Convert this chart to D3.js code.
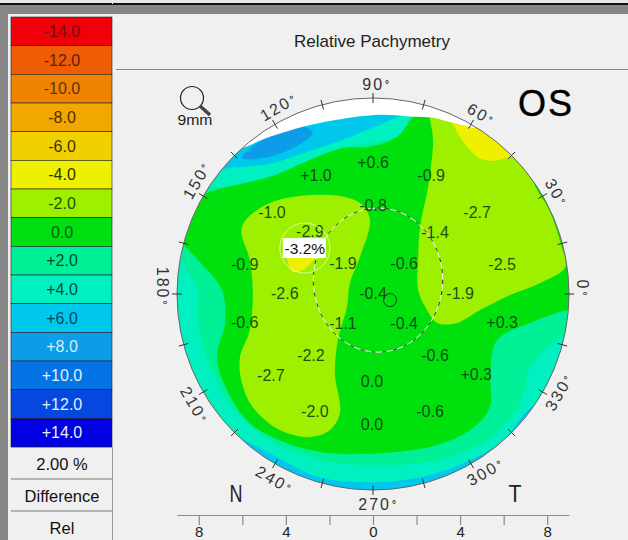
<!DOCTYPE html>
<html>
<head>
<meta charset="utf-8">
<script src="https://cdn.jsdelivr.net/npm/d3@7"></script>
<style>
  html, body { margin: 0; padding: 0; background: #f0f0f0; overflow: hidden; }
  svg { display: block; font-family: "Liberation Sans", Arial, sans-serif; }
</style>
</head>
<body>
<svg id="chart" width="628" height="540"></svg>
<script>
// Colour scale
const legendLabels = ["-14.0", "-12.0", "-10.0", "-8.0", "-6.0", "-4.0", "-2.0", "0.0", "+2.0", "+4.0", "+6.0", "+8.0", "+10.0", "+12.0", "+14.0"];
const legendColors = ["#f00008", "#f05c04", "#f08400", "#f0a800", "#f0d000", "#eef000", "#9cf000", "#00e010", "#00f098", "#00f0c0", "#00c8ec", "#0c9ce8", "#0474e4", "#0448e0", "#0000e0"];
const legendText = ["#701010", "#602010", "#603010", "#503000", "#403000", "#303000", "#205000", "#006010", "#004a30", "#004a40", "#004a60", "#d0f0ff", "#e0f0ff", "#e0f0ff", "#e8f0ff"];
const footerLabels = ["2.00 %", "Difference", "Rel"];

// Map regions, outlines in mm
const regionPlus8 = [[-6.02, 6.25], [-5.06, 7.08], [-3.22, 7.68], [-2.76, 7.40], [-3.40, 6.85], [-4.74, 6.30]];
const regionPlus4 = [[-7.95, 5.50], [-6.80, 5.75], [-4.74, 5.98], [-2.90, 6.57], [-1.38, 7.08], [0.32, 7.77], [1.93, 8.37], [10.44, 8.69], [10.44, -4.87], [7.45, -5.10], [5.98, -6.71], [4.46, -7.63], [2.16, -8.41], [-0.14, -8.64], [-2.44, -8.41], [-4.74, -7.31], [-6.57, -6.25], [-7.95, -4.41], [-8.87, -2.11], [-9.33, 0.18], [-9.33, 4.32]];
const regionPlus2 = [[-9.10, 2.71], [-8.55, 1.10], [-8.05, 0.18], [-8.05, -1.33], [-7.36, -3.63], [-6.25, -5.47], [-4.74, -6.71], [-2.44, -7.63], [0.32, -7.86], [2.94, -7.63], [5.24, -6.71], [6.76, -5.01], [7.22, -3.36], [8.46, -2.11], [9.98, -1.66], [10.90, -0.28], [10.90, 8.92], [2.62, 8.92], [1.84, 8.37], [1.24, 7.31], [-0.14, 6.94], [-1.66, 6.62], [-3.22, 5.84], [-4.74, 5.24], [-6.25, 4.92], [-7.63, 4.87], [-9.33, 4.32]];
const regionZero = [[-9.10, 3.17], [-8.74, 2.34], [-7.95, 1.47], [-6.94, 0.18], [-6.80, -1.33], [-7.17, -2.90], [-6.71, -4.41], [-5.66, -5.93], [-3.95, -6.85], [-1.98, -7.31], [0.32, -7.31], [2.94, -6.94], [4.46, -6.25], [5.24, -5.47], [5.43, -4.87], [5.38, -3.72], [5.70, -2.11], [7.22, -1.33], [8.92, -0.74], [10.44, -0.51], [10.90, 8.92], [2.62, 8.92], [1.84, 8.14], [1.10, 7.22], [-0.14, 6.76], [-1.38, 6.71], [-3.22, 6.02], [-4.74, 5.38], [-6.90, 4.87], [-7.63, 4.64], [-9.33, 3.86]];
const regionMinus2Right = [[2.71, 8.92], [2.76, 6.94], [2.53, 4.92], [2.16, 3.08], [2.07, 1.56], [2.07, 0.18], [2.48, -0.74], [2.94, -1.33], [3.86, -1.33], [4.92, -0.74], [6.30, -0.05], [7.68, 0.51], [8.83, 1.24], [8.64, 2.25], [8.14, 3.77], [7.36, 5.33], [8.05, 6.25], [5.84, 8.92]];
const regionMinus2Left = [[-6.02, 3.08], [-4.74, 4.18], [-1.98, 4.55], [-0.60, 4.18], [-0.14, 3.40], [-0.60, 1.70], [-1.06, 0.51], [-1.20, -0.60], [-1.61, -2.11], [-1.75, -3.63], [-1.52, -5.47], [-1.98, -6.25], [-2.90, -6.57], [-4.28, -6.25], [-5.52, -5.20], [-6.02, -4.09], [-6.11, -2.90], [-5.66, -1.66], [-5.52, 0.18], [-5.66, 1.56]];
const regionMinus4Top = [[3.40, 8.37], [3.68, 7.77], [4.32, 6.76], [5.06, 6.16], [6.16, 6.25], [6.76, 6.62], [7.22, 8.00], [4.46, 8.92]];
const regionMinus4Left = [[-3.91, 2.02], [-2.44, 2.02], [-2.80, 1.47], [-3.22, 1.10], [-3.68, 1.01]];
const lidEdge = [[-6.80, 6.62], [-4.74, 7.22], [-3.22, 7.68], [-1.66, 8.00], [0.32, 8.23], [1.84, 8.14], [2.76, 8.09], [3.68, 7.86], [5.01, 7.72], [5.38, 9.84], [-6.80, 9.84]];

// Readings on the map
const readingText = ["+0.6", "+1.0", "-0.9", "-0.8", "-1.0", "-2.9", "-2.7", "-1.4", "-0.9", "-1.9", "-0.6", "-2.5", "-2.6", "-0.4", "-1.9", "-0.6", "-1.1", "-0.4", "+0.3", "-2.2", "-0.6", "-2.7", "0.0", "+0.3", "-2.0", "0.0", "-0.6"];
const readingX = [0, -2.62, 2.67, 0, -4.64, -2.90, 4.78, 2.85, -5.89, -1.38, 1.43, 5.93, -4.05, 0, 4.00, -5.89, -1.38, 1.43, 5.93, -2.85, 2.85, -4.69, -0.05, 4.74, -2.67, -0.05, 2.62];
const readingY = [6.07, 5.47, 5.47, 4.09, 3.77, 2.90, 3.77, 2.85, 1.38, 1.43, 1.43, 1.38, 0.05, 0.05, 0.05, -1.29, -1.33, -1.33, -1.29, -2.80, -2.80, -3.72, -4.00, -3.68, -5.38, -5.98, -5.38];
const thinnest = {text: "-3.2%", x: -3.13, y: 2.11, r: 1.15};

// Pupil outline and its centre
const pupil = {x: 0.23, y: 0.64, rx: 2.97, ry: 3.31};
const pupilCentre = {x: 0.78, y: -0.28, r: 0.3};

// Axes
const axisTicks = [-8, -6, -4, -2, 0, 2, 4, 6, 8];
const axisLabelled = [-8, -4, 0, 4, 8];
const angleTicks = d3.range(0, 360, 15);
const angleLabels = [0, 30, 60, 90, 120, 150, 180, 210, 240, 270, 300, 330];
const angleLabelAt = [1.5, 29, 59, 89, 116.8, 147.2, 178, 211.9, 242, 271.4, 302.3, 332.2];

const svg = d3.select("#chart");
const x = d3.scaleLinear().domain([-9, 9]).range([177, 569]);
const y = d3.scaleLinear().domain([-9, 9]).range([490, 98]);
const mm = x(1) - x(0);
const radius = 9 * mm;

// Window frame
svg.append("rect").attr("width", 628).attr("height", 3).attr("fill", "#e8e8e8");
svg.append("rect").attr("y", 3).attr("width", 628).attr("height", 2).attr("fill", "#111");
svg.append("rect").attr("y", 5).attr("width", 628).attr("height", 9).attr("fill", "#868686");
svg.append("rect").attr("y", 14).attr("width", 8).attr("height", 526).attr("fill", "#868686");
svg.append("rect").attr("x", 112).attr("width", 1).attr("height", 4).attr("fill", "#eee");

// Legend
const rowH = 28.67;
const legend = svg.append("g");
legend.selectAll("rect").data(legendLabels).join("rect")
    .attr("x", 11).attr("y", (d, i) => 17 + i * rowH)
    .attr("width", 101).attr("height", rowH)
    .attr("fill", (d, i) => legendColors[i])
    .attr("stroke", "#222").attr("stroke-width", 0.6);
legend.selectAll("text").data(legendLabels).join("text")
    .attr("x", 62).attr("y", (d, i) => 17 + i * rowH + 20)
    .attr("text-anchor", "middle").attr("font-size", 16)
    .attr("fill", (d, i) => legendText[i])
    .text(d => d);

const footerY = [447, 479, 511, 541];
svg.append("g").selectAll("text").data(footerLabels).join("text")
    .attr("x", 62).attr("y", (d, i) => footerY[i] + 23)
    .attr("text-anchor", "middle").attr("font-size", 16.5).attr("fill", "#111")
    .text(d => d);
svg.append("g").selectAll("line").data(footerY.slice(1, 3)).join("line")
    .attr("x1", 11).attr("x2", 112).attr("y1", d => d).attr("y2", d => d)
    .attr("stroke", "#777");
svg.append("line").attr("x1", 112.5).attr("x2", 112.5).attr("y1", 447).attr("y2", 540).attr("stroke", "#999");

// Title
svg.append("text").attr("x", 372).attr("y", 47).attr("text-anchor", "middle")
    .attr("font-size", 17).attr("fill", "#222").text("Relative Pachymetry");
svg.append("line").attr("x1", 116).attr("x2", 628).attr("y1", 69.5).attr("y2", 69.5).attr("stroke", "#888");

// Map
const defs = svg.append("defs");
defs.append("clipPath").attr("id", "rim").append("circle")
    .attr("cx", x(0)).attr("cy", y(0)).attr("r", radius);
defs.append("filter").attr("id", "soft").append("feGaussianBlur").attr("stdDeviation", 0.5);

const outline = d3.line().x(d => x(d[0])).y(d => y(d[1])).curve(d3.curveCatmullRomClosed.alpha(0.5));
const regions = [
    [regionPlus4, legendColors[9]],
    [regionPlus2, legendColors[8]],
    [regionZero, legendColors[7]],
    [regionMinus2Right, legendColors[6]],
    [regionMinus2Left, legendColors[6]],
    [regionMinus4Top, legendColors[5]],
    [regionMinus4Left, legendColors[5]],
    [regionPlus8, legendColors[11]],
    [lidEdge, "#ffffff"]
];
const map = svg.append("g").attr("clip-path", "url(#rim)").append("g").attr("filter", "url(#soft)");
map.append("circle").attr("cx", x(0)).attr("cy", y(0)).attr("r", radius + 2).attr("fill", legendColors[10]);
map.selectAll("path").data(regions).join("path")
    .attr("d", d => outline(d[0]))
    .attr("fill", d => d[1]);

// Rim and angle ticks
svg.append("circle").attr("cx", x(0)).attr("cy", y(0)).attr("r", radius)
    .attr("fill", "none").attr("stroke", "#666").attr("stroke-width", 1);
const rad = a => a * Math.PI / 180;
svg.append("g").selectAll("line").data(angleTicks).join("line")
    .attr("x1", d => x(0) + (radius - 5) * Math.cos(rad(d)))
    .attr("y1", d => y(0) - (radius - 5) * Math.sin(rad(d)))
    .attr("x2", d => x(0) + (radius + 5) * Math.cos(rad(d)))
    .attr("y2", d => y(0) - (radius + 5) * Math.sin(rad(d)))
    .attr("stroke", "#333").attr("stroke-width", 1);

const angleText = svg.append("g").selectAll("text").data(angleLabels).join("text")
    .attr("text-anchor", "middle").attr("dominant-baseline", "central")
    .attr("font-size", 16).attr("letter-spacing", 2).attr("fill", "#333")
    .attr("transform", (d, i) => {
        const px = x(0) + (radius + 14) * Math.cos(rad(angleLabelAt[i]));
        const py = y(0) - (radius + 14) * Math.sin(rad(angleLabelAt[i]));
        let turn = 90 - d;
        if (d > 180) turn = 270 - d;
        if (d === 0 || d === 180) turn = 90;
        return `translate(${px},${py}) rotate(${turn})`;
    });
angleText.append("tspan").text(d => d);
angleText.append("tspan").attr("dx", 1).attr("font-size", 10).attr("font-weight", "bold").text("°");

// Pupil
const pupilG = svg.append("g").attr("fill", "none");
pupilG.append("ellipse").attr("cx", x(pupil.x)).attr("cy", y(pupil.y))
    .attr("rx", pupil.rx * mm).attr("ry", pupil.ry * mm)
    .attr("stroke", "#f4f4e0").attr("stroke-width", 1);
pupilG.append("ellipse").attr("cx", x(pupil.x)).attr("cy", y(pupil.y))
    .attr("rx", pupil.rx * mm).attr("ry", pupil.ry * mm)
    .attr("stroke", "#143014").attr("stroke-width", 1).attr("stroke-dasharray", "4 7");
pupilG.append("circle").attr("cx", x(pupilCentre.x)).attr("cy", y(pupilCentre.y))
    .attr("r", pupilCentre.r * mm).attr("stroke", "#124012").attr("stroke-width", 1);

// Readings
svg.append("g").selectAll("text").data(readingText).join("text")
    .attr("x", (d, i) => x(readingX[i])).attr("y", (d, i) => y(readingY[i]) + 6)
    .attr("text-anchor", "middle").attr("font-size", 16)
    .attr("fill", "#0e3a12").attr("fill-opacity", 0.9)
    .text(d => d);

// Thinnest point
svg.append("circle").attr("cx", x(thinnest.x)).attr("cy", y(thinnest.y)).attr("r", thinnest.r * mm)
    .attr("fill", "none").attr("stroke", "#f4f8d0").attr("stroke-width", 1).attr("stroke-opacity", 0.8);
svg.append("rect").attr("x", x(thinnest.x) - 22).attr("y", y(thinnest.y) - 10)
    .attr("width", 43).attr("height", 20).attr("fill", "#fff");
svg.append("text").attr("x", x(thinnest.x)).attr("y", y(thinnest.y) + 6)
    .attr("text-anchor", "middle").attr("font-size", 15.5).attr("fill", "#111").text(thinnest.text);

// Zoom icon
const icon = svg.append("g");
icon.append("circle").attr("cx", 192).attr("cy", 98).attr("r", 11.5)
    .attr("fill", "none").attr("stroke", "#222").attr("stroke-width", 1.2);
icon.append("line").attr("x1", 200).attr("y1", 106).attr("x2", 210).attr("y2", 115)
    .attr("stroke", "#444").attr("stroke-width", 3.5);
icon.append("text").attr("x", 195).attr("y", 125).attr("text-anchor", "middle")
    .attr("font-size", 14).attr("fill", "#222").attr("textLength", 35).attr("lengthAdjust", "spacingAndGlyphs").text("9mm");

// Eye and side labels
svg.append("text").attr("x", 546).attr("y", 116).attr("text-anchor", "middle")
    .attr("font-size", 36).attr("letter-spacing", 2).attr("fill", "#000").attr("stroke", "#000").attr("stroke-width", 0.4).text("OS");
svg.append("text").attr("x", 236).attr("y", 502).attr("text-anchor", "middle")
    .attr("font-size", 23).attr("fill", "#222").attr("textLength", 13).attr("lengthAdjust", "spacingAndGlyphs").text("N");
svg.append("text").attr("x", 515).attr("y", 502).attr("text-anchor", "middle")
    .attr("font-size", 23).attr("fill", "#222").attr("textLength", 13).attr("lengthAdjust", "spacingAndGlyphs").text("T");

// Millimetre axis
const axis = svg.append("g").attr("transform", "translate(0,515)")
    .call(d3.axisBottom(x).tickValues(axisTicks).tickSize(10).tickSizeOuter(0).tickPadding(0.85)
        .tickFormat(d => axisLabelled.includes(d) ? Math.abs(d) : ""));
axis.select(".domain").attr("stroke", "#8a8a8a").attr("stroke-width", 1.2);
axis.selectAll(".tick line").attr("stroke", "#8a8a8a").attr("stroke-width", 1.2);
axis.selectAll(".tick text").attr("font-size", 15).attr("font-family", "Liberation Sans, Arial, sans-serif").attr("fill", "#222");
</script>
</body>
</html>
